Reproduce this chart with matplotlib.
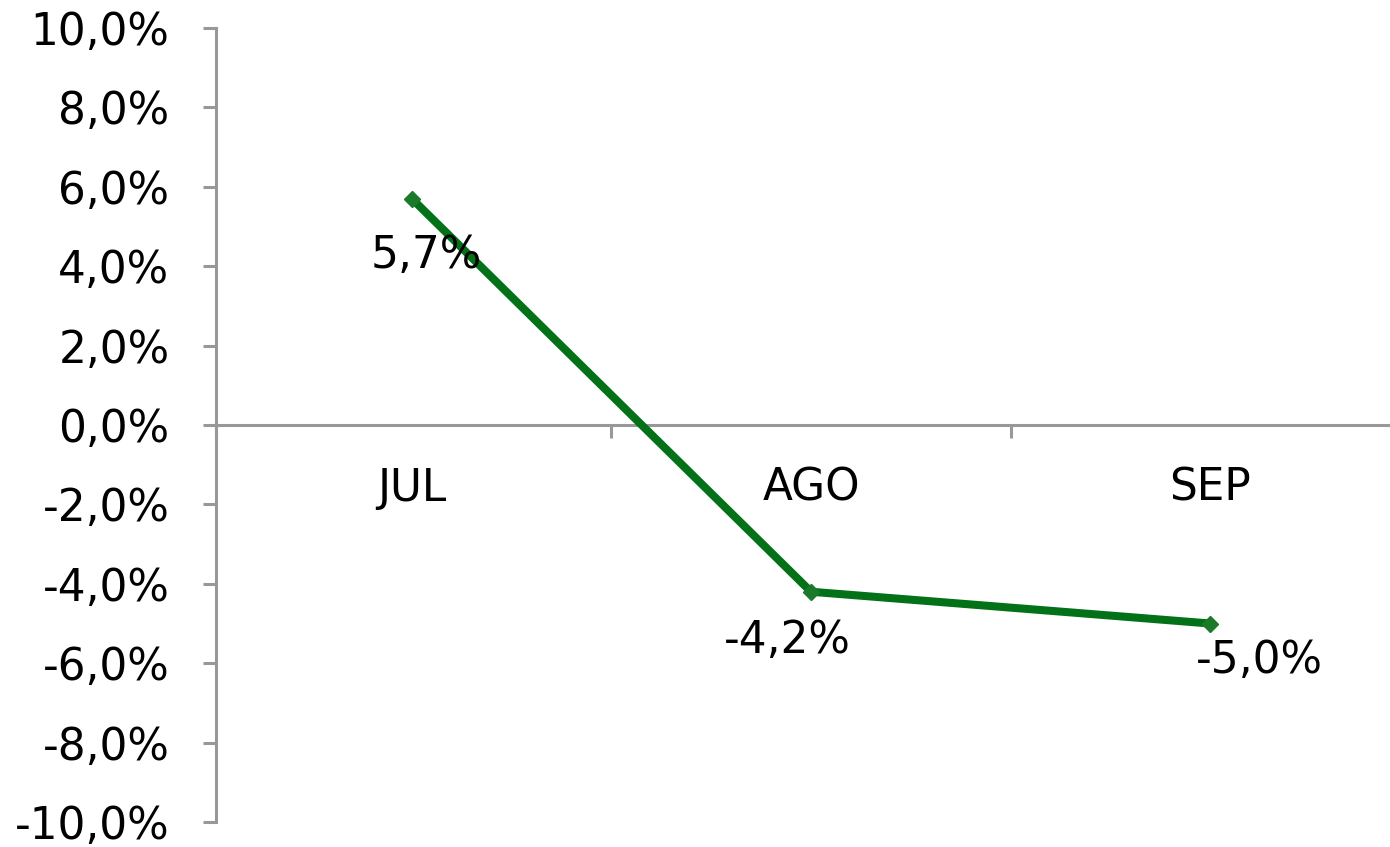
import matplotlib
matplotlib.use("Agg")
import matplotlib.pyplot as plt
from matplotlib.ticker import FuncFormatter, FixedLocator

categories = ["JUL", "AGO", "SEP"]
values = [5.7, -4.2, -5.0]
y_ticks = [-10, -8, -6, -4, -2, 0, 2, 4, 6, 8, 10]

# label offsets in pixels (dx, dy) relative to each point
label_offsets = [(14, -57), (-24, -49), (49, -37)]

def pct(v):
    return f"{v:.1f}%".replace(".", ",")

W, H, DPI = 1390, 847, 100
fig = plt.figure(figsize=(W / DPI, H / DPI), dpi=DPI)
left, right, top, bottom = 216, 1390, 28, 822
ax = fig.add_axes([left / W, 1 - bottom / H, (right - left) / W, (bottom - top) / H])

plt.rcParams["font.family"] = ["DejaVu Sans"]
FS = 31.5
axis_col = "#989898"
line_col = "#037117"

x = list(range(len(categories)))
ax.plot(x, values, color=line_col, lw=5.8, marker="D", markersize=8.5,
        markerfacecolor="#1a7a2a", markeredgecolor="#1a7a2a", solid_capstyle="round", zorder=3)

for xi, v, (dx, dy) in zip(x, values, label_offsets):
    ax.annotate(pct(v), (xi, v), xytext=(dx * 72 / DPI, dy * 72 / DPI), textcoords="offset points",
                ha="center", va="center", fontsize=FS, color="black", zorder=4)

ax.set_ylim(-10, 10)
ax.set_xlim(-0.491, 2.451)
ax.yaxis.set_major_locator(FixedLocator(y_ticks))
ax.yaxis.set_major_formatter(FuncFormatter(lambda v, p: pct(v)))

ax.set_xticks(x)
ax.set_xticklabels(categories)
ax.set_xticks([-0.491, 0.5, 1.5], minor=True)

for s in ["top", "right"]:
    ax.spines[s].set_visible(False)
ax.spines["bottom"].set_position(("data", 0))
for s in ["left", "bottom"]:
    ax.spines[s].set_color(axis_col)
    ax.spines[s].set_linewidth(2.2)

ax.tick_params(axis="y", which="major", length=9.5, width=2.2, color=axis_col,
               pad=24, labelsize=FS, labelcolor="black")
ax.tick_params(axis="x", which="major", length=0, pad=30, labelsize=FS, labelcolor="black")
ax.tick_params(axis="x", which="minor", length=9, width=2.2, color=axis_col, direction="out")

fig.savefig("out.png", dpi=DPI)
